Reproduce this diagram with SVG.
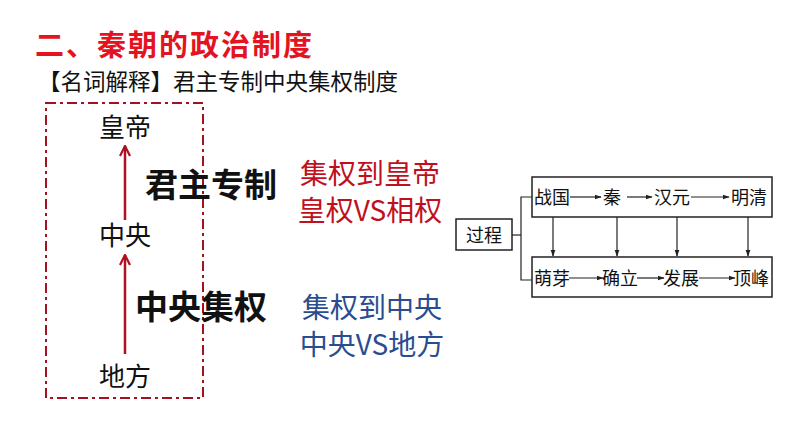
<svg xmlns="http://www.w3.org/2000/svg" width="794" height="447" viewBox="0 0 794 447">
<style>
text{font-family:"Noto Sans CJK SC","Liberation Serif",sans-serif}
.node{font-size:26px;fill:#111;text-anchor:middle}
.big{font-size:33px;font-weight:bold;fill:#111}
.red{font-size:28px;fill:#c0101e;text-anchor:middle}
.blue{font-size:28px;fill:#2a4d8f;text-anchor:middle}
.fc{font-size:18px;fill:#111;text-anchor:middle}
.box{fill:none;stroke:#222;stroke-width:1.5}
.ln{fill:none;stroke:#222;stroke-width:1.2}
.rarrow{stroke:#b01020;stroke-width:2.5;fill:none}
</style>
<defs>
<marker id="ah" viewBox="0 0 10 10" refX="9" refY="5" markerWidth="7" markerHeight="7" orient="auto" markerUnits="userSpaceOnUse">
<path d="M0,1.5 L10,5 L0,8.5 Z" fill="#222"/>
</marker>
<marker id="rh" viewBox="0 0 12 12" refX="11" refY="6" markerWidth="12" markerHeight="12" orient="auto" markerUnits="userSpaceOnUse">
<path d="M1,1 L11,6 L1,11" fill="none" stroke="#b01020" stroke-width="2.2"/>
</marker>
</defs>
<rect width="794" height="447" fill="#fff"/>
<g id="title">
<text x="35" y="56" font-size="29" font-weight="bold" fill="#e3141f" letter-spacing="2">二、秦朝的政治制度</text>
<text x="38" y="90" font-size="22.5" fill="#111">【名词解释】君主专制中央集权制度</text>
</g>
<g id="frame">
<rect x="46" y="103" width="157" height="295" fill="none" stroke="#a3111f" stroke-width="2" stroke-dasharray="10 4 3 4"/>
</g>
<g id="huangdi"><text class="node" x="125" y="137">皇帝</text></g>
<g id="zhongyang"><text class="node" x="125" y="245">中央</text></g>
<g id="difang"><text class="node" x="125" y="386">地方</text></g>
<g id="junzhu"><text class="big" x="145" y="197">君主专制</text></g>
<g id="jiquan"><text class="big" x="135" y="319">中央集权</text></g>
<g id="redtext">
<text class="red" x="370" y="184">集权到皇帝</text>
<text class="red" x="370" y="221">皇权VS相权</text>
</g>
<g id="bluetext">
<text class="blue" x="372" y="318">集权到中央</text>
<text class="blue" x="372" y="355">中央VS地方</text>
</g>
<g id="guocheng">
<rect class="box" x="456" y="219" width="56" height="31"/>
<text class="fc" x="484" y="242" font-size="20">过程</text>
</g>
<g id="upper">
<rect class="box" x="532" y="177" width="240" height="40"/>
<text class="fc" x="552" y="204">战国</text>
<text class="fc" x="612" y="204">秦</text>
<text class="fc" x="672" y="204">汉元</text>
<text class="fc" x="749" y="204">明清</text>
</g>
<g id="lower">
<rect class="box" x="532" y="257" width="240" height="40"/>
<text class="fc" x="552" y="285">萌芽</text>
<text class="fc" x="620" y="285">确立</text>
<text class="fc" x="681" y="285">发展</text>
<text class="fc" x="751" y="285">顶峰</text>
</g>
<g id="connectors">
<line class="rarrow" x1="125" y1="220" x2="125" y2="146" marker-end="url(#rh)"/>
<line class="rarrow" x1="125" y1="354" x2="125" y2="255" marker-end="url(#rh)"/>
<polyline class="ln" points="512,235 521,235"/>
<polyline class="ln" points="532,197 521,197 521,280 532,280"/>
<line class="ln" x1="570" y1="197" x2="601" y2="197" marker-end="url(#ah)"/>
<line class="ln" x1="627" y1="197" x2="652" y2="197" marker-end="url(#ah)"/>
<line class="ln" x1="691" y1="197" x2="729" y2="197" marker-end="url(#ah)"/>
<line class="ln" x1="569" y1="278" x2="603" y2="278" marker-end="url(#ah)"/>
<line class="ln" x1="637" y1="278" x2="664" y2="278" marker-end="url(#ah)"/>
<line class="ln" x1="699" y1="278" x2="735" y2="278" marker-end="url(#ah)"/>
<line class="ln" x1="553" y1="217" x2="553" y2="256" marker-end="url(#ah)"/>
<line class="ln" x1="617" y1="217" x2="617" y2="256" marker-end="url(#ah)"/>
<line class="ln" x1="677" y1="217" x2="677" y2="256" marker-end="url(#ah)"/>
<line class="ln" x1="748" y1="217" x2="748" y2="256" marker-end="url(#ah)"/>
</g>
</svg>
